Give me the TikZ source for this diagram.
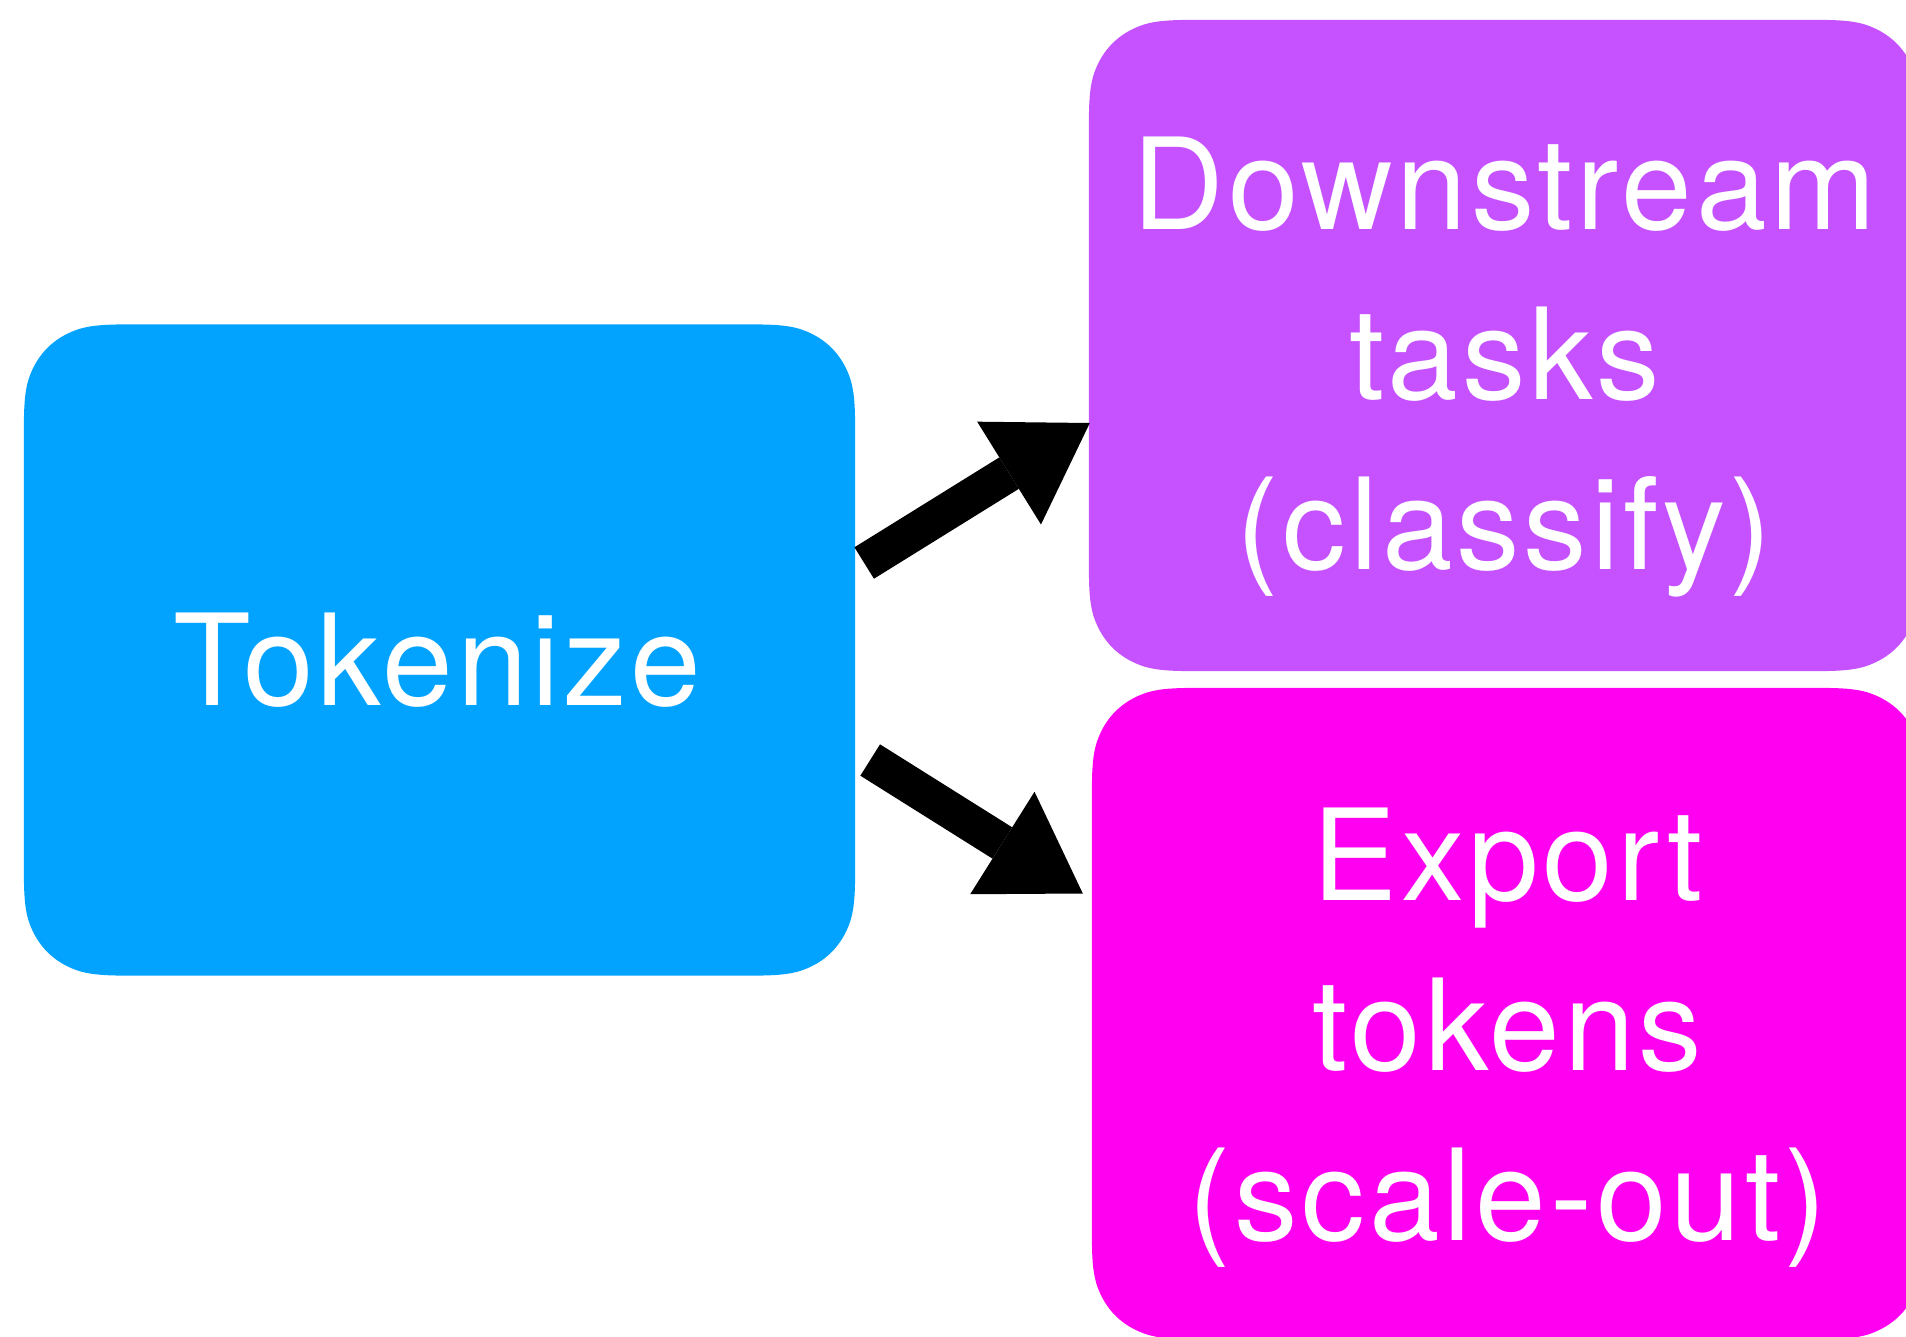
\documentclass[tikz,border=0pt]{standalone}
\usepackage{fontspec}
\setmainfont{TeX Gyre Heros}[LetterSpace=3]
\usetikzlibrary{arrows.meta,calc}
\definecolor{tokblue}{RGB}{2,163,255}
\definecolor{taskpurple}{RGB}{198,81,255}
\definecolor{exportmag}{RGB}{255,0,240}

% one continuous (squircle) corner of radius 80:
% #1 corner point, (#2,#3) direction of the incoming edge away from the corner,
% (#4,#5) direction of the outgoing edge
\newcommand\sqcorner[5]{%
  -- ($(#1)+({122.29*(#2)},{122.29*(#3)})$)
  .. controls ($(#1)+({87.08*(#2)},{87.08*(#3)})$) and ($(#1)+({69.47*(#2)},{69.47*(#3)})$)
  .. ($(#1)+({53.59*(#2)+5.24*(#4)},{53.59*(#3)+5.24*(#5)})$)
  .. controls ($(#1)+({29.83*(#2)+13.51*(#4)},{29.83*(#3)+13.51*(#5)})$)
         and ($(#1)+({13.51*(#2)+29.83*(#4)},{13.51*(#3)+29.83*(#5)})$)
  .. ($(#1)+({5.24*(#2)+53.59*(#4)},{5.24*(#3)+53.59*(#5)})$)
  .. controls ($(#1)+({69.47*(#4)},{69.47*(#5)})$) and ($(#1)+({87.08*(#4)},{87.08*(#5)})$)
  .. ($(#1)+({122.29*(#4)},{122.29*(#5)})$)}

% card filled behind a named node: #1 node name, #2 colour
\newcommand\softcard[2]{%
  \fill[#2] ($(#1.north west)+(122.29,0)$)
    \sqcorner{#1.north east}{-1}{0}{0}{1}
    \sqcorner{#1.south east}{0}{-1}{-1}{0}
    \sqcorner{#1.south west}{1}{0}{0}{-1}
    \sqcorner{#1.north west}{0}{1}{1}{0}
    -- cycle;}

\begin{document}
\begin{tikzpicture}[x=1pt,y=-1pt,
  card/.style={minimum width=831pt, minimum height=651pt, inner sep=0pt, draw=none},
  cardtext/.style={text=white, align=center, inner sep=0pt,
               font=\fontsize{127}{170}\selectfont},
  flow/.style={line width=37pt, draw=black,
               -{Triangle[length=95pt,width=121pt,line width=0pt]}}
]
\useasboundingbox (0,0) rectangle (1906,1336);

% the three stages
\node[card] (tok) at (439.5,650)  {};
\node[card] (ds)  at (1504.5,345.5) {};
\node[card] (ex)  at (1507.5,1013.5) {};

\softcard{tok}{tokblue}
\softcard{ds}{taskpurple}
\softcard{ex}{exportmag}

\node[cardtext] (toklbl) at ($(tok.center)+(-2,10)$)  {Tokenize};
\node[cardtext] (dslbl)  at ($(ds.center)+(0,21.5)$)  {Downstream\\tasks\\(classify)};
\node[cardtext] (exlbl)  at ($(ex.center)+(0,24)$)    {Export\\tokens\\(scale-out)};

% arrow end points on the card edges
\coordinate (upS) at ($(tok.east)+(9,-87)$);
\coordinate (upE) at ($(ds.west)+(1,77.5)$);
\coordinate (dnS) at ($(tok.east)+(15,110)$);
\coordinate (dnE) at ($(ex.west)+(-9,-120)$);

\draw[flow] (upS) -- (upE);
\draw[flow] (dnS) -- (dnE);
\end{tikzpicture}
\end{document}
